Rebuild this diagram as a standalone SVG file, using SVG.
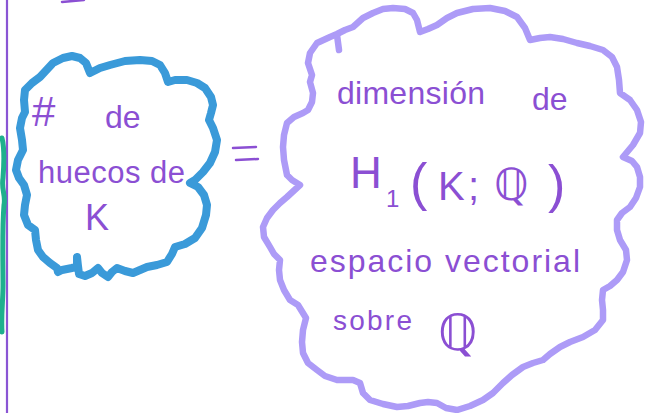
<svg xmlns="http://www.w3.org/2000/svg" width="648" height="413" viewBox="0 0 648 413">
<style>
.ink{fill:#8b4fd3;font-family:"Liberation Sans","DejaVu Sans",sans-serif}
.bb{fill:#8b4fd3;font-family:"DejaVu Sans",sans-serif}
.cloud{fill:none;stroke-linejoin:round;stroke-linecap:round}
</style>
<rect width="648" height="413" fill="#ffffff"/>
<g id="margin">
<line x1="7" y1="0" x2="7" y2="413" stroke="#8a55d4" stroke-width="2.2"/>
<path d="M2,138 C5,150 4,165 3,178 C1,190 6,195 4,205 C2,230 3,260 3,285 C3,300 1,315 2,332" fill="none" stroke="#1fb08d" stroke-width="5" stroke-linecap="round"/>
<path d="M62,2 L84,0" stroke="#8b4fd3" stroke-width="2.5" stroke-linecap="round"/>
</g>
<g id="huecos">
<path class="cloud" stroke="#3a9ad9" stroke-width="8" d="M32,83 L40,77 L53,63 L63,58 L72,56 L80,58 L86,63 L90,73 L100,68 L110,65 L125,61 L140,60 L152,61 L160,65 L165,73 L168,82 L175,80 L187,80 L197,83 L205,88 L211,97 L213,105 L211,113 L209,120 L213,128 L217,140 L215,152 L210,163 L203,172 L195,180 L190,183 L198,187 L204,195 L207,205 L206,215 L202,228 L195,238 L185,244 L175,247 L172,254 L167,262 L157,265 L147,267 L140,270 L133,273 L125,271 L117,268 L112,272 L108,277 L102,273 L98,268 L92,273 L85,276 L79,274 L78,266 L77,257 L77,266 L72,268 L62,270 L58,272 L57,268 L50,263 L43,257 L38,250 L36,240 L35,230 L28,225 L24,215 L25,205 L27,195 L24,185 L19,178 L16,170 L18,160 L23,150 L22,140 L20,128 L22,118 L25,112 L24,100 L25,90 Z"/>
<text class="ink" x="32" y="126" font-size="42">#</text>
<text class="ink" x="105" y="128" font-size="32">de</text>
<text class="ink" x="38" y="183" font-size="31" textLength="147">huecos de</text>
<text class="ink" x="85" y="230" font-size="36">K</text>
</g>
<g id="connectors">
<line x1="233" y1="148" x2="256" y2="147" stroke="#8b4fd3" stroke-width="2.5" stroke-linecap="round"/>
<line x1="236" y1="160" x2="258" y2="159" stroke="#8b4fd3" stroke-width="2.5" stroke-linecap="round"/>
</g>
<g id="dimension">
<path class="cloud" stroke="#ad9bf7" stroke-width="6.5" d="M317,43 L330,37 L337,34 L345,30 L353,27 L363,18 L373,13 L383,9 L393,8 L405,9 L413,13 L417,20 L420,32 L428,29 L437,25 L447,18 L457,13 L473,9 L490,8 L505,11 L517,17 L525,28 L530,40 L540,38 L550,37 L563,39 L577,43 L590,46 L603,50 L612,57 L617,67 L619,80 L620,93 L630,100 L637,110 L641,122 L640,133 L633,145 L623,157 L632,161 L637,167 L640,177 L640,187 L636,198 L630,207 L622,213 L617,220 L617,230 L620,240 L626,250 L627,260 L623,272 L617,280 L610,286 L603,290 L602,300 L603,310 L603,320 L595,330 L583,337 L570,342 L560,347 L550,354 L543,360 L533,363 L523,367 L512,375 L503,383 L493,393 L483,400 L470,406 L457,410 L446,408 L437,403 L428,402 L420,403 L408,406 L397,407 L383,404 L370,400 L363,393 L360,383 L353,380 L345,380 L337,380 L325,376 L317,370 L308,363 L303,353 L302,342 L303,330 L306,318 L298,305 L290,300 L284,290 L280,280 L279,270 L280,260 L274,254 L270,247 L264,237 L263,227 L267,218 L273,210 L280,203 L287,197 L300,185 L292,180 L287,175 L284,160 L283,147 L284,135 L287,123 L294,117 L303,113 L308,110 L312,102 L313,93 L310,82 L312,75 L308,63 L310,53 Z"/>
<path d="M337,35 L339,50" fill="none" stroke="#ad9bf7" stroke-width="6.5" stroke-linecap="round"/>
<text class="ink" x="337" y="104" font-size="32" textLength="148">dimensión</text>
<text class="ink" x="532" y="110" font-size="32">de</text>
<text class="ink" x="350" y="188" font-size="44">H</text>
<text class="ink" x="386" y="207" font-size="24">1</text>
<text class="ink" x="410" y="200" font-size="52">(</text>
<text class="ink" x="438" y="200" font-size="40">K</text>
<text class="ink" x="468" y="200" font-size="40">;</text>
<text class="bb" x="494" y="200" font-size="44">ℚ</text>
<text class="ink" x="548" y="202" font-size="52">)</text>
<text class="ink" x="310" y="272" font-size="32" textLength="270">espacio vectorial</text>
<text class="ink" x="333" y="330" font-size="28" textLength="79">sobre</text>
<text class="bb" x="438" y="350" font-size="50">ℚ</text>
</g>
</svg>
